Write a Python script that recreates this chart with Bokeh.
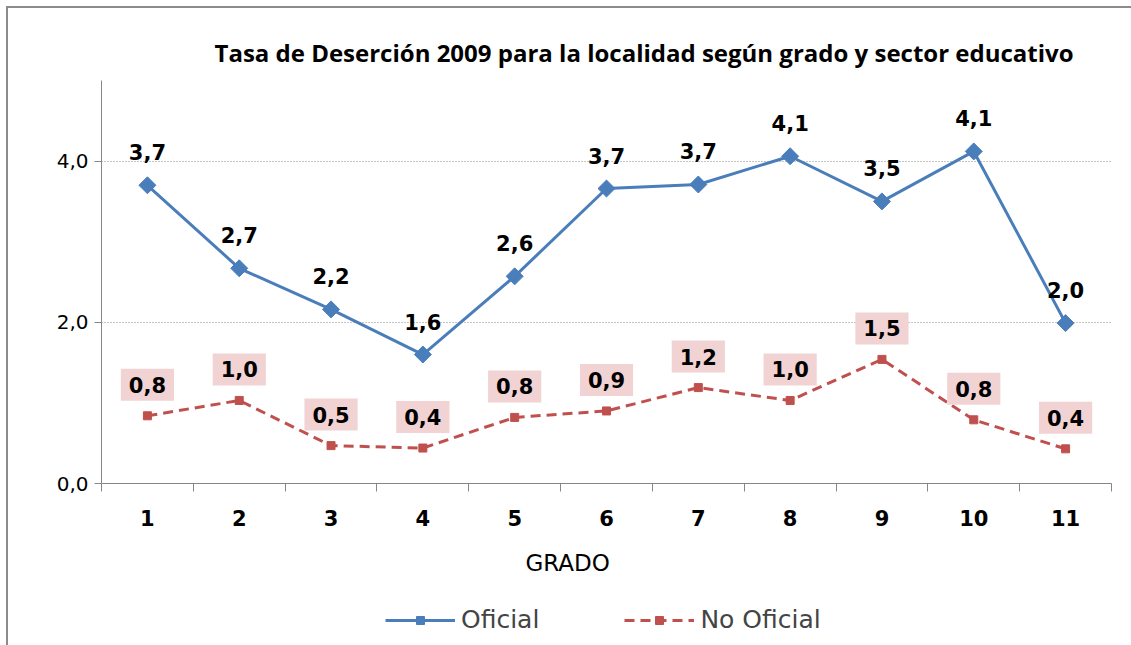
from bokeh.plotting import figure
from bokeh.layouts import column
from bokeh.models import (ColumnDataSource, FixedTicker, Title, Legend, LegendItem, Range1d)
from bokeh.core.properties import value
from bokeh.embed import file_html
from bokeh.resources import INLINE

grados = [1, 2, 3, 4, 5, 6, 7, 8, 9, 10, 11]
grado_labels = ["1", "2", "3", "4", "5", "6", "7", "8", "9", "10", "11"]
oficial = [3.70, 2.67, 2.16, 1.60, 2.57, 3.66, 3.71, 4.06, 3.50, 4.12, 1.99]
no_oficial = [0.84, 1.03, 0.47, 0.44, 0.82, 0.90, 1.19, 1.03, 1.54, 0.79, 0.43]
y_ticks = [0, 2, 4]
y_tick_labels = ["0,0", "2,0", "4,0"]
title_text = "Tasa de Deserción  2009 para la localidad según grado y sector educativo"
x_title = "GRADO"
series_names = ["Oficial", "No Oficial"]

def fmt(v):
    return f"{v:.1f}".replace(".", ",")

src = ColumnDataSource(dict(
    x=grados, of=oficial, nof=no_oficial,
    of_lab=[fmt(v) for v in oficial], nof_lab=[fmt(v) for v in no_oficial],
))

FONT = "DejaVu Sans"
BLUE = "#4a7ebb"
RED = "#c0504d"
GRAY = "#868686"


def add_series(fig):
    a = fig.line("x", "of", source=src, line_color=BLUE, line_width=3)
    b = fig.scatter("x", "of", source=src, marker="square", angle=0.7854, size=12,
                    fill_color=BLUE, line_color=BLUE)
    c = fig.line("x", "nof", source=src, line_color=RED, line_width=3, line_dash="10 6")
    d = fig.scatter("x", "nof", source=src, marker="square", size=8,
                    fill_color=RED, line_color=RED)
    return a, b, c, d


p = figure(width=1123, height=592, output_backend="svg", toolbar_location=None,
           x_range=Range1d(0.5, 11.5), y_range=Range1d(0, 5),
           min_border_left=93, min_border_right=20, min_border_top=72, min_border_bottom=117)
p.outline_line_color = None
p.background_fill_color = "white"
p.border_fill_color = "white"

# title
p.title.text = title_text
p.title.align = "left"
p.title.offset = 113
p.title.standoff = 20
p.title.vertical_align = "top"
p.title.text_font = "Open Sans"
p.title.text_font_size = "24px"
p.title.text_font_style = "bold"
p.title.text_color = "black"

# axes
p.xaxis.ticker = FixedTicker(ticks=grados, minor_ticks=[g - 0.5 for g in grados] + [grados[-1] + 0.5])
p.xaxis.major_label_overrides = {g: l for g, l in zip(grados, grado_labels)}
p.xaxis.major_tick_out = 0
p.xaxis.major_tick_in = 0
p.xaxis.minor_tick_out = 8
p.xaxis.minor_tick_in = 0
p.xaxis.minor_tick_line_color = GRAY
p.xaxis.axis_line_color = GRAY
p.xaxis.major_label_text_font = FONT
p.xaxis.major_label_text_font_size = "21px"
p.xaxis.major_label_text_font_style = "bold"
p.xaxis.major_label_text_color = "black"
p.xaxis.major_label_standoff = 18

p.yaxis.ticker = FixedTicker(ticks=y_ticks)
p.yaxis.major_label_overrides = {t: l for t, l in zip(y_ticks, y_tick_labels)}
p.yaxis.major_tick_out = 7
p.yaxis.major_tick_in = 0
p.yaxis.minor_tick_line_color = None
p.yaxis.major_tick_line_color = GRAY
p.yaxis.axis_line_color = GRAY
p.yaxis.major_label_text_font = FONT
p.yaxis.major_label_text_font_size = "20px"
p.yaxis.major_label_text_color = "black"
p.yaxis.major_label_standoff = 6

p.add_layout(Title(text=x_title, align="left", offset=424, standoff=38,
                   text_font=FONT, text_font_size="23px", text_font_style="normal",
                   text_color="black"), "below")

p.xgrid.grid_line_color = None
p.ygrid.ticker = FixedTicker(ticks=y_ticks)
p.ygrid.grid_line_color = "#8c8c8c"
p.ygrid.grid_line_dash = "1 2"
p.ygrid.grid_line_width = 1

add_series(p)

p.text("x", "of", text="of_lab", source=src, y_offset=-33,
       text_align="center", text_baseline="middle",
       text_font=value(FONT), text_font_size="21px", text_font_style="bold",
       text_color="black")
p.text("x", "nof", text="nof_lab", source=src, y_offset=-31,
       text_align="center", text_baseline="middle",
       text_font=value(FONT), text_font_size="21px", text_font_style="bold",
       text_color="black", background_fill_color="#f2d3d4", padding=8)

# legend strip below the chart (its series lie outside its ranges, only the legend shows)
q = figure(width=1123, height=45, output_backend="svg", toolbar_location=None,
           x_range=Range1d(100, 101), y_range=Range1d(100, 101),
           x_axis_type=None, y_axis_type=None,
           min_border_left=0, min_border_right=0, min_border_top=0, min_border_bottom=0)
q.outline_line_color = None
q.grid.visible = False
q.border_fill_color = "white"
ql1, qm1, ql2, qm2 = add_series(q)
legend = Legend(items=[LegendItem(label=series_names[0], renderers=[ql1, qm1]),
                       LegendItem(label=series_names[1], renderers=[ql2, qm2])],
                location=(284, 11), orientation="horizontal",
                glyph_width=70, glyph_height=20, label_standoff=6, spacing=85,
                padding=5, margin=0,
                label_text_font=FONT, label_text_font_size="25px",
                background_fill_alpha=0, border_line_color=None)
q.add_layout(legend, "center")

layout = column(p, q, spacing=0,
                styles={"margin-left": "6px", "margin-top": "6px",
                        "border-left": "2px solid #8c8c8c", "border-top": "2px solid #8c8c8c"})

open("out.html", "w").write(file_html(layout, INLINE))
